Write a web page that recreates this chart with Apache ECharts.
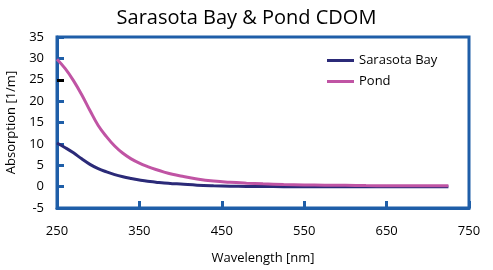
<!DOCTYPE html>
<html><head><meta charset="utf-8">
<script src="https://cdn.jsdelivr.net/npm/echarts@6/dist/echarts.min.js"></script>
<style>html,body{margin:0;padding:0;background:#fff}#c{width:493px;height:270px}</style>
</head><body><div id="c"></div>
<script>
const wavelengths = [250,260,270,280,290,300,310,320,330,340,350,360,370,380,390,400,420,440,460,480,500,525,550,575,600,625,650,675,700,725];
const sarasotaBay = [10.2,9.1,7.9,6.5,5.2,4.2,3.45,2.8,2.3,1.9,1.55,1.25,1.05,0.85,0.7,0.6,0.35,0.2,0.1,0.05,0.02,0.0,0.0,0.0,0.0,0.0,0.0,0.0,0.0,0.0];
const pond = [29.8,27.6,24.8,21.5,17.8,14.3,11.7,9.5,7.8,6.5,5.5,4.7,4.0,3.4,2.9,2.5,1.8,1.3,1.0,0.8,0.65,0.5,0.4,0.35,0.3,0.25,0.22,0.2,0.18,0.18];
const xTicks = [250,350,450,550,650,750];
const yTicks = [-5,0,5,10,15,20,25,30,35];

const blue = '#1f5ea8';
const font = 'Open Sans';
const chart = echarts.init(document.getElementById('c'));
chart.setOption({
  animation:false,
  title:{text:'Sarasota Bay & Pond CDOM',left:'center',top:3,textStyle:{fontFamily:font,fontSize:20,fontWeight:'normal',color:'#000'}},
  legend:{left:322,top:49,orient:'vertical',itemWidth:27,itemHeight:3,itemGap:8,icon:'rect',
    textStyle:{fontFamily:font,fontSize:13,color:'#000'},
    data:['Sarasota Bay','Pond']},
  grid:{left:57,right:24,top:37,bottom:62,outerBoundsMode:'none',containLabel:false,show:true,borderColor:blue,borderWidth:3,backgroundColor:'transparent'},
  xAxis:{type:'value',min:xTicks[0],max:xTicks[xTicks.length-1],interval:100,
    name:'Wavelength [nm]',nameLocation:'middle',nameGap:44,nameTextStyle:{fontFamily:font,fontSize:13,color:'#000'},
    axisLine:{show:true,onZero:false,lineStyle:{color:blue,width:3}},
    axisTick:{show:true,inside:true,length:7,lineStyle:{color:blue,width:3}},
    axisLabel:{margin:17,fontFamily:font,fontSize:13,color:'#000'},
    splitLine:{show:false}},
  yAxis:[{type:'value',min:yTicks[0],max:yTicks[yTicks.length-1],interval:5,
    name:'Absorption [1/m]',nameLocation:'middle',nameGap:37,nameTextStyle:{fontFamily:font,fontSize:13,color:'#000'},
    axisLine:{show:true,onZero:false,lineStyle:{color:blue,width:3}},
    axisTick:{show:true,inside:true,length:7,lineStyle:{color:blue,width:3}},
    axisLabel:{margin:13,fontFamily:font,fontSize:13,color:'#000'},
    splitLine:{show:false}},
   {type:'value',position:'left',min:yTicks[0],max:yTicks[yTicks.length-1],interval:5,
    axisLine:{show:false,onZero:false},axisLabel:{show:false},splitLine:{show:false},
    axisTick:{show:true,inside:true,length:7,customValues:[25],lineStyle:{color:'#000',width:3}}}],
  series:[
    {name:'Sarasota Bay',type:'line',smooth:0.4,showSymbol:false,symbol:'none',
     data:wavelengths.map((w,i)=>[w,sarasotaBay[i]]),lineStyle:{color:'#2b2a78',width:3},itemStyle:{color:'#2b2a78'}},
    {name:'Pond',type:'line',smooth:0.4,showSymbol:false,symbol:'none',
     data:wavelengths.map((w,i)=>[w,pond[i]]),lineStyle:{color:'#c054a4',width:3},itemStyle:{color:'#c054a4'}}
  ]
});
</script></body></html>
